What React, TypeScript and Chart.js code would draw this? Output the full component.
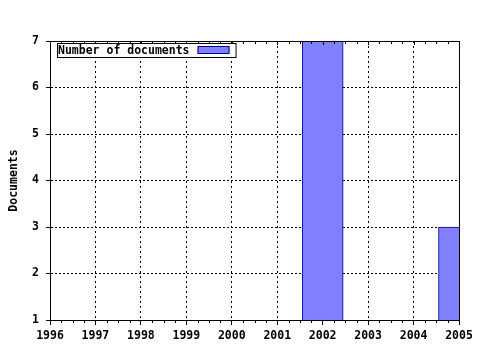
import React, { useEffect, useRef } from "react";
import { Chart, registerables } from "chart.js";

Chart.register(...registerables);

const years = [2002, 2005];
const documents = [7, 3];
const seriesLabel = "Number of documents";
const yAxisTitle = "Documents";
const xMin = 1996;
const xMax = 2005;
const yMin = 1;
const yMax = 7;

const FONT_FAMILY = '"DejaVu Sans Mono", monospace';
const FILL = "#8080ff";
const EDGE = "#000099";

const framePlugin = {
  id: "frame",
  afterDraw(chart: any) {
    const { ctx, chartArea } = chart;
    const xs = chart.scales.x;
    const { left, right, top, bottom } = chartArea;
    ctx.save();
    ctx.strokeStyle = "#000";
    ctx.lineWidth = 1;
    ctx.setLineDash([]);
    ctx.beginPath();
    ctx.moveTo(Math.round(left) + 0.5, Math.round(top) + 0.5);
    ctx.lineTo(Math.round(right) + 0.5, Math.round(top) + 0.5);
    ctx.moveTo(Math.round(right) + 0.5, Math.round(top) + 0.5);
    ctx.lineTo(Math.round(right) + 0.5, Math.round(bottom) + 0.5);
    for (let v = xMin; v <= xMax + 1e-9; v += 0.25) {
      const px = Math.round(xs.getPixelForValue(v)) + 0.5;
      const major = Math.abs(v - Math.round(v)) < 1e-9;
      const tlen = major ? 4 : 3;
      ctx.moveTo(px, Math.round(top));
      ctx.lineTo(px, Math.round(top) + tlen);
      if (!major) {
        ctx.moveTo(px, Math.round(bottom));
        ctx.lineTo(px, Math.round(bottom) + 3);
      }
    }
    ctx.stroke();

    const ds = chart.data.datasets[0];
    const bx = Math.round(left) + 7;
    const by = Math.round(top) + 2;
    ctx.font = `bold 11.5px ${FONT_FAMILY}`;
    const tw = ctx.measureText(ds.label).width;
    const bw = tw + 47;
    const bh = 14;
    ctx.fillStyle = "#fff";
    ctx.fillRect(bx, by, bw, bh);
    ctx.strokeStyle = "#000";
    ctx.strokeRect(bx + 0.5, by + 0.5, bw, bh);
    ctx.fillStyle = "#000";
    ctx.textBaseline = "middle";
    ctx.textAlign = "left";
    ctx.fillText(ds.label, bx + 1, by + bh / 2 + 1);
    const sx = bx + bw - 38;
    ctx.fillStyle = ds.backgroundColor;
    ctx.fillRect(sx, by + 3, 32, 8);
    ctx.strokeStyle = ds.borderColor;
    ctx.strokeRect(sx + 0.5, by + 3.5, 31, 7);
    ctx.restore();
  },
};

export default function App() {
  const ref = useRef<HTMLCanvasElement | null>(null);

  useEffect(() => {
    if (!ref.current) return;
    const font = { family: FONT_FAMILY, size: 11.5, weight: "bold" as const };
    const chart = new Chart(ref.current, {
      type: "bar",
      data: {
        datasets: [
          {
            label: seriesLabel,
            data: years.map((y, i) => ({ x: y, y: documents[i] })),
            backgroundColor: FILL,
            borderColor: EDGE,
            borderWidth: 1,
            barThickness: 41,
          },
        ],
      },
      options: {
        responsive: false,
        animation: false,
        events: [],
        layout: { padding: { left: 0, right: 21, top: 41, bottom: 0 } },
        plugins: {
          legend: { display: false },
          tooltip: { enabled: false },
        },
        scales: {
          x: {
            type: "linear",
            min: xMin,
            max: xMax,
            offset: false,
            grid: {
              offset: false,
              color: "#000",
              lineWidth: 1,
              tickLength: 5,
              tickColor: "#000",
              drawOnChartArea: true,
            },
            border: { display: true, color: "#000", width: 1, dash: [2, 3] },
            ticks: {
              stepSize: 1,
              color: "#000",
              font,
              padding: 4,
              maxRotation: 0,
              autoSkip: false,
              callback: (v: any) => String(v),
            },
            afterFit: (s: any) => {
              s.height = 30;
            },
          },
          y: {
            min: yMin,
            max: yMax,
            grid: {
              color: "#000",
              lineWidth: 1,
              tickLength: 4,
              tickColor: "#000",
            },
            border: { display: true, color: "#000", width: 1, dash: [2, 2] },
            ticks: {
              stepSize: 1,
              color: "#000",
              font,
              padding: 7,
              callback: (v: any) => String(v),
            },
            title: {
              display: true,
              text: yAxisTitle,
              color: "#000",
              font,
              padding: { top: 7, bottom: 0 },
            },
            afterFit: (s: any) => {
              s.width = 50;
            },
          },
        },
      },
      plugins: [framePlugin],
    });
    return () => chart.destroy();
  }, []);

  return (
    <div style={{ position: "absolute", left: 0, top: 0, width: 480, height: 350, background: "#fff" }}>
      <canvas ref={ref} width={480} height={350} />
    </div>
  );
}
